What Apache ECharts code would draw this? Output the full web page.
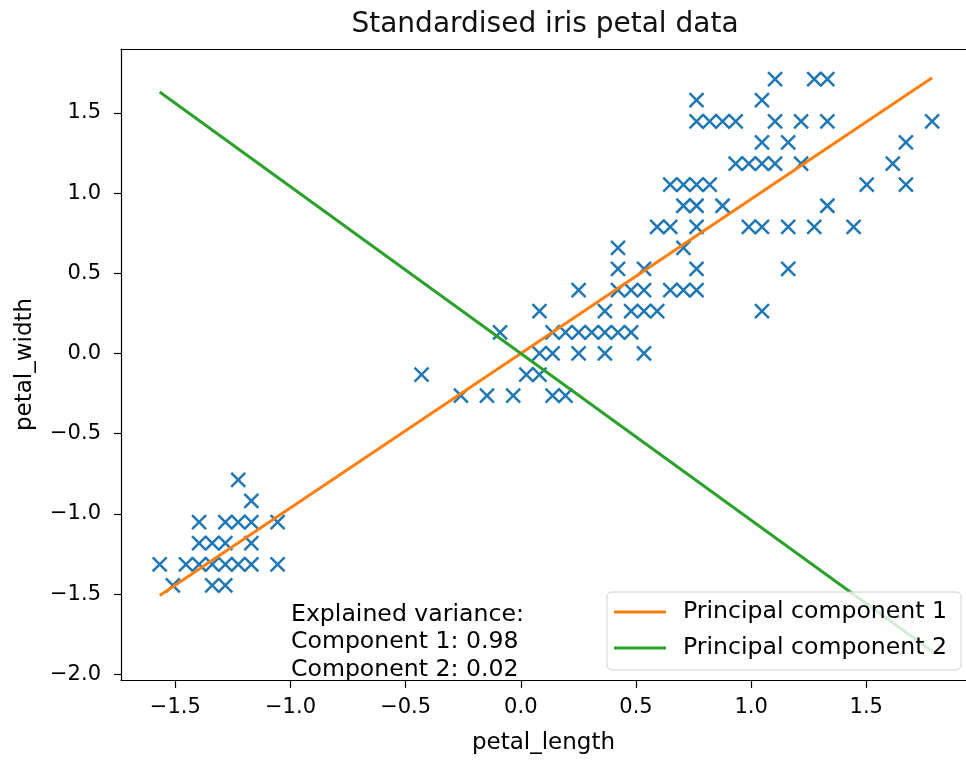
<!DOCTYPE html>
<html>
<head>
<meta charset="utf-8">
<title>Standardised iris petal data</title>
<script src="https://cdn.jsdelivr.net/npm/echarts@6/dist/echarts.min.js"></script>
<style>
    html, body { margin: 0; padding: 0; background: #ffffff; }
    #chart { width: 966px; height: 760px; }
</style>
</head>
<body>
<div id="chart"></div>
<script>
// 标准化后的 petal_length / petal_width（每个点一对，重复点只保留一个）
const petalPoints = [
    // setosa
    [-1.568, -1.314], [-1.511, -1.445], [-1.454, -1.314], [-1.397, -1.314], [-1.397, -1.182],
    [-1.397, -1.051], [-1.340, -1.445], [-1.340, -1.314], [-1.340, -1.182], [-1.283, -1.445],
    [-1.283, -1.314], [-1.283, -1.182], [-1.283, -1.051], [-1.227, -1.314], [-1.227, -1.051],
    [-1.227, -0.788], [-1.170, -1.314], [-1.170, -1.182], [-1.170, -1.051], [-1.170, -0.919],
    [-1.056, -1.314], [-1.056, -1.051],
    // versicolor
    [-0.431, -0.131], [-0.260, -0.262], [-0.147, -0.262], [-0.090, 0.132], [-0.033, -0.262],
    [0.024, -0.131], [0.081, -0.131], [0.081, 0.001], [0.081, 0.264], [0.138, -0.262],
    [0.138, 0.001], [0.138, 0.132], [0.194, -0.262], [0.194, 0.132], [0.251, 0.001],
    [0.251, 0.132], [0.251, 0.395], [0.308, 0.132], [0.365, 0.001], [0.365, 0.132],
    [0.365, 0.264], [0.422, 0.132], [0.422, 0.395], [0.422, 0.527], [0.479, 0.132],
    [0.479, 0.264], [0.479, 0.395], [0.535, 0.001], [0.535, 0.264], [0.535, 0.395],
    [0.535, 0.527], [0.592, 0.264], [0.592, 0.790], [0.649, 0.395], [0.706, 0.658],
    [0.763, 0.527],
    // virginica
    [0.422, 0.658], [0.649, 0.790], [0.649, 1.053], [0.706, 0.395], [0.706, 0.921],
    [0.706, 1.053], [0.763, 0.395], [0.763, 0.790], [0.763, 0.921], [0.763, 1.053],
    [0.763, 1.447], [0.763, 1.579], [0.820, 1.053], [0.820, 1.447], [0.876, 0.921],
    [0.876, 1.447], [0.933, 1.184], [0.933, 1.447], [0.990, 0.790], [0.990, 1.184],
    [1.047, 0.264], [1.047, 0.790], [1.047, 1.184], [1.047, 1.316], [1.047, 1.579],
    [1.104, 1.184], [1.104, 1.447], [1.104, 1.710], [1.161, 0.527], [1.161, 0.790],
    [1.161, 1.316], [1.217, 1.184], [1.217, 1.447], [1.274, 0.790], [1.274, 1.710],
    [1.331, 0.921], [1.331, 1.447], [1.331, 1.710], [1.445, 0.790], [1.502, 1.053],
    [1.615, 1.184], [1.672, 1.053], [1.672, 1.316], [1.786, 1.447]
];

// 主成分方向线（两端点）
const componentX = [-1.568, 1.786];
const pc1Y = [-1.509, 1.719];
const pc2Y = [1.630, -1.856];

const xTicks = [-1.5, -1.0, -0.5, 0.0, 0.5, 1.0, 1.5];
const yTicks = [-2.0, -1.5, -1.0, -0.5, 0.0, 0.5, 1.0, 1.5];

const varianceText = ['Explained variance:', 'Component 1: 0.98', 'Component 2: 0.02'];

const FONT = 'DejaVu Sans';
const X_MIN = -1.736, X_MAX = 1.933;   // 原图右侧边框被裁掉
const Y_MIN = -2.035, Y_MAX = 1.898;

let chart = null;

document.addEventListener('DOMContentLoaded', function() {
    initChart();
});

/**
 * 刻度标签：一位小数，负号用 U+2212
 */
function tickLabel(v) {
    const s = Math.abs(v).toFixed(1);
    return v < 0 ? '\u2212' + s : s;
}

function initChart() {
    chart = echarts.init(document.getElementById('chart'));

    const spine = { show: true, onZero: false, lineStyle: { color: '#000', width: 1.2 } };
    const tick = { show: true, length: 7, lineStyle: { color: '#000', width: 1.2 } };
    const nameStyle = { fontFamily: FONT, fontSize: 23, color: '#000' };
    const labelStyle = { formatter: tickLabel, fontFamily: FONT, fontSize: 21, color: '#000' };

    const option = {
        animation: false,
        backgroundColor: '#ffffff',
        title: {
            text: 'Standardised iris petal data',
            left: 540,
            top: 3,
            textAlign: 'center',
            textStyle: {
                fontFamily: FONT,
                fontSize: 28,
                fontWeight: 'normal',
                color: '#111',
                lineHeight: 34
            }
        },
        grid: {
            left: 121,
            top: 49,
            right: 0,
            bottom: 77
        },
        xAxis: [
            {
                type: 'value',
                min: X_MIN,
                max: X_MAX,
                name: 'petal_length',
                nameLocation: 'middle',
                nameGap: 52,
                nameTextStyle: nameStyle,
                axisLine: spine,
                splitLine: { show: false },
                axisTick: Object.assign({}, tick, { length: 8, customValues: xTicks }),
                axisLabel: Object.assign({}, labelStyle, { customValues: xTicks, margin: 17 })
            },
            {
                // 上边框
                type: 'value',
                position: 'top',
                min: X_MIN,
                max: X_MAX,
                axisLine: spine,
                axisTick: { show: false },
                axisLabel: { show: false },
                splitLine: { show: false }
            }
        ],
        yAxis: {
            type: 'value',
            min: Y_MIN,
            max: Y_MAX,
            name: 'petal_width',
            nameLocation: 'middle',
            nameGap: 84,
            nameTextStyle: nameStyle,
            axisLine: spine,
            splitLine: { show: false },
            axisTick: Object.assign({}, tick, { customValues: yTicks }),
            axisLabel: Object.assign({}, labelStyle, { customValues: yTicks, margin: 20 })
        },
        legend: {
            orient: 'vertical',
            left: 607,
            top: 592,
            padding: [6, 14, 8, 7],
            icon: 'rect',
            itemWidth: 52,
            itemHeight: 3,
            itemGap: 8,
            backgroundColor: 'rgba(255,255,255,0.8)',
            borderColor: '#d0d0d0',
            borderWidth: 1,
            borderRadius: 5,
            textStyle: {
                fontFamily: FONT,
                fontSize: 23.6,
                lineHeight: 28,
                color: '#000',
                padding: [0, 0, 0, 12]
            },
            data: ['Principal component 1', 'Principal component 2']
        },
        graphic: [{
            type: 'text',
            left: 291,
            top: 601,
            style: {
                text: varianceText.join('\n'),
                fontFamily: FONT,
                fontSize: 23.6,
                lineHeight: 27.5,
                fill: '#000'
            }
        }],
        series: [
            {
                name: 'petal data',
                type: 'scatter',
                data: petalPoints,
                symbol: 'path://M0,0L10,10M10,0L0,10',
                symbolSize: 14,
                itemStyle: {
                    color: 'rgba(0,0,0,0)',
                    borderColor: '#1f77b4',
                    borderWidth: 2.5,
                    opacity: 1
                }
            },
            {
                name: 'Principal component 1',
                type: 'line',
                data: componentX.map((x, i) => [x, pc1Y[i]]),
                symbol: 'none',
                lineStyle: { color: '#ff7f0e', width: 3 },
                itemStyle: { color: '#ff7f0e' }
            },
            {
                name: 'Principal component 2',
                type: 'line',
                data: componentX.map((x, i) => [x, pc2Y[i]]),
                symbol: 'none',
                lineStyle: { color: '#2ca02c', width: 3 },
                itemStyle: { color: '#2ca02c' }
            }
        ]
    };

    chart.setOption(option);

    window.addEventListener('resize', function() {
        chart.resize();
    });
}
</script>
</body>
</html>
